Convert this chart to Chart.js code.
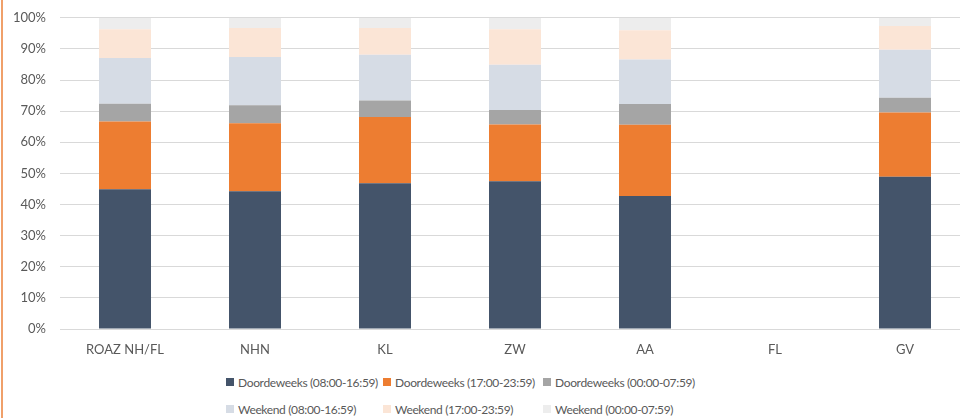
<!DOCTYPE html>
<html>
<head>
<meta charset="utf-8">
<script src="https://cdn.jsdelivr.net/npm/chart.js@4/dist/chart.umd.min.js"></script>
<style>
  html, body { margin: 0; padding: 0; background: #fff; overflow: hidden; }
  body { width: 960px; height: 418px; position: relative; font-family: Lato, "Open Sans", sans-serif; }
  #edge { position: absolute; left: 1px; top: 0; width: 2px; height: 418px; background: #F0A06A; }
  #wrap { position: absolute; left: 0; top: -4px; width: 970px; height: 366px; }
  #legend { position: absolute; left: 226px; top: 373px; display: grid;
    grid-template-columns: 157px 160px auto; row-gap: 9px; font-size: 12px; color: #595959; letter-spacing: -0.35px; }
  #legend div { display: flex; align-items: center; height: 18px; white-space: nowrap; }
  #legend span.box { display: inline-block; flex: 0 0 8px; width: 8px; height: 8px; margin-right: 4px; }
</style>
</head>
<body>
<div id="edge"></div>
<div id="wrap"><canvas id="chart"></canvas></div>
<div id="legend"></div>
<script>
// Categories and tick labels
const regions = ['ROAZ NH/FL', 'NHN', 'KL', 'ZW', 'AA', 'FL', 'GV'];

// Share per time slot (%)
const weekDay = [44.9, 44.3, 46.8, 47.5, 42.7, null, 48.9];
const weekEvening = [21.8, 21.8, 21.3, 18.2, 22.9, null, 20.7];
const weekNight = [5.7, 5.8, 5.3, 4.7, 6.7, null, 4.7];
const weekendDay = [14.7, 15.5, 14.7, 14.5, 14.3, null, 15.4];
const weekendEvening = [9.2, 9.3, 8.6, 11.4, 9.4, null, 7.7];
const weekendNight = [3.7, 3.3, 3.3, 3.7, 4.0, null, 2.6];

const seriesNames = [
    'Doordeweeks (08:00-16:59)', 'Doordeweeks (17:00-23:59)', 'Doordeweeks (00:00-07:59)',
    'Weekend (08:00-16:59)', 'Weekend (17:00-23:59)', 'Weekend (00:00-07:59)'
];
const seriesData = [weekDay, weekEvening, weekNight, weekendDay, weekendEvening, weekendNight];
const colors = ['#44546A', '#ED7D31', '#A5A5A5', '#D6DCE5', '#FBE5D6', '#EDEDED'];

const textColor = '#595959';
const gridColor = '#D9D9D9';

const datasets = seriesNames.map((name, i) => ({
    label: name,
    data: seriesData[i],
    backgroundColor: colors[i],
    barPercentage: 0.8,
    categoryPercentage: 0.5
}));

const ctx = document.getElementById('chart').getContext('2d');
let chart = new Chart(ctx, {
    type: 'bar',
    data: { labels: regions, datasets: datasets },
    options: {
        responsive: true,
        maintainAspectRatio: false,
        animation: false,
        layout: { padding: { top: 11, right: 0, left: 0, bottom: 0 } },
        plugins: { legend: { display: false }, tooltip: { enabled: false } },
        scales: {
            x: {
                stacked: true,
                grid: { display: false, drawTicks: false },
                border: { color: gridColor },
                ticks: { color: textColor, font: { family: 'Lato', size: 13 }, padding: 13, maxRotation: 0 },
                afterFit: s => { s.height = 33; }
            },
            y: {
                stacked: true,
                min: 0,
                max: 100,
                grid: { color: gridColor, drawTicks: false },
                border: { display: false },
                ticks: {
                    stepSize: 10,
                    color: textColor,
                    font: { family: 'Lato', size: 13 },
                    padding: 14,
                    callback: v => v + '%'
                },
                afterFit: s => { s.width = 60; }
            }
        }
    }
});

// Legend in columns like the original
const legend = document.getElementById('legend');
seriesNames.forEach((name, i) => {
    const item = document.createElement('div');
    item.innerHTML = '<span class="box" style="background:' + colors[i] + '"></span>' + name;
    legend.appendChild(item);
});
</script>
</body>
</html>
